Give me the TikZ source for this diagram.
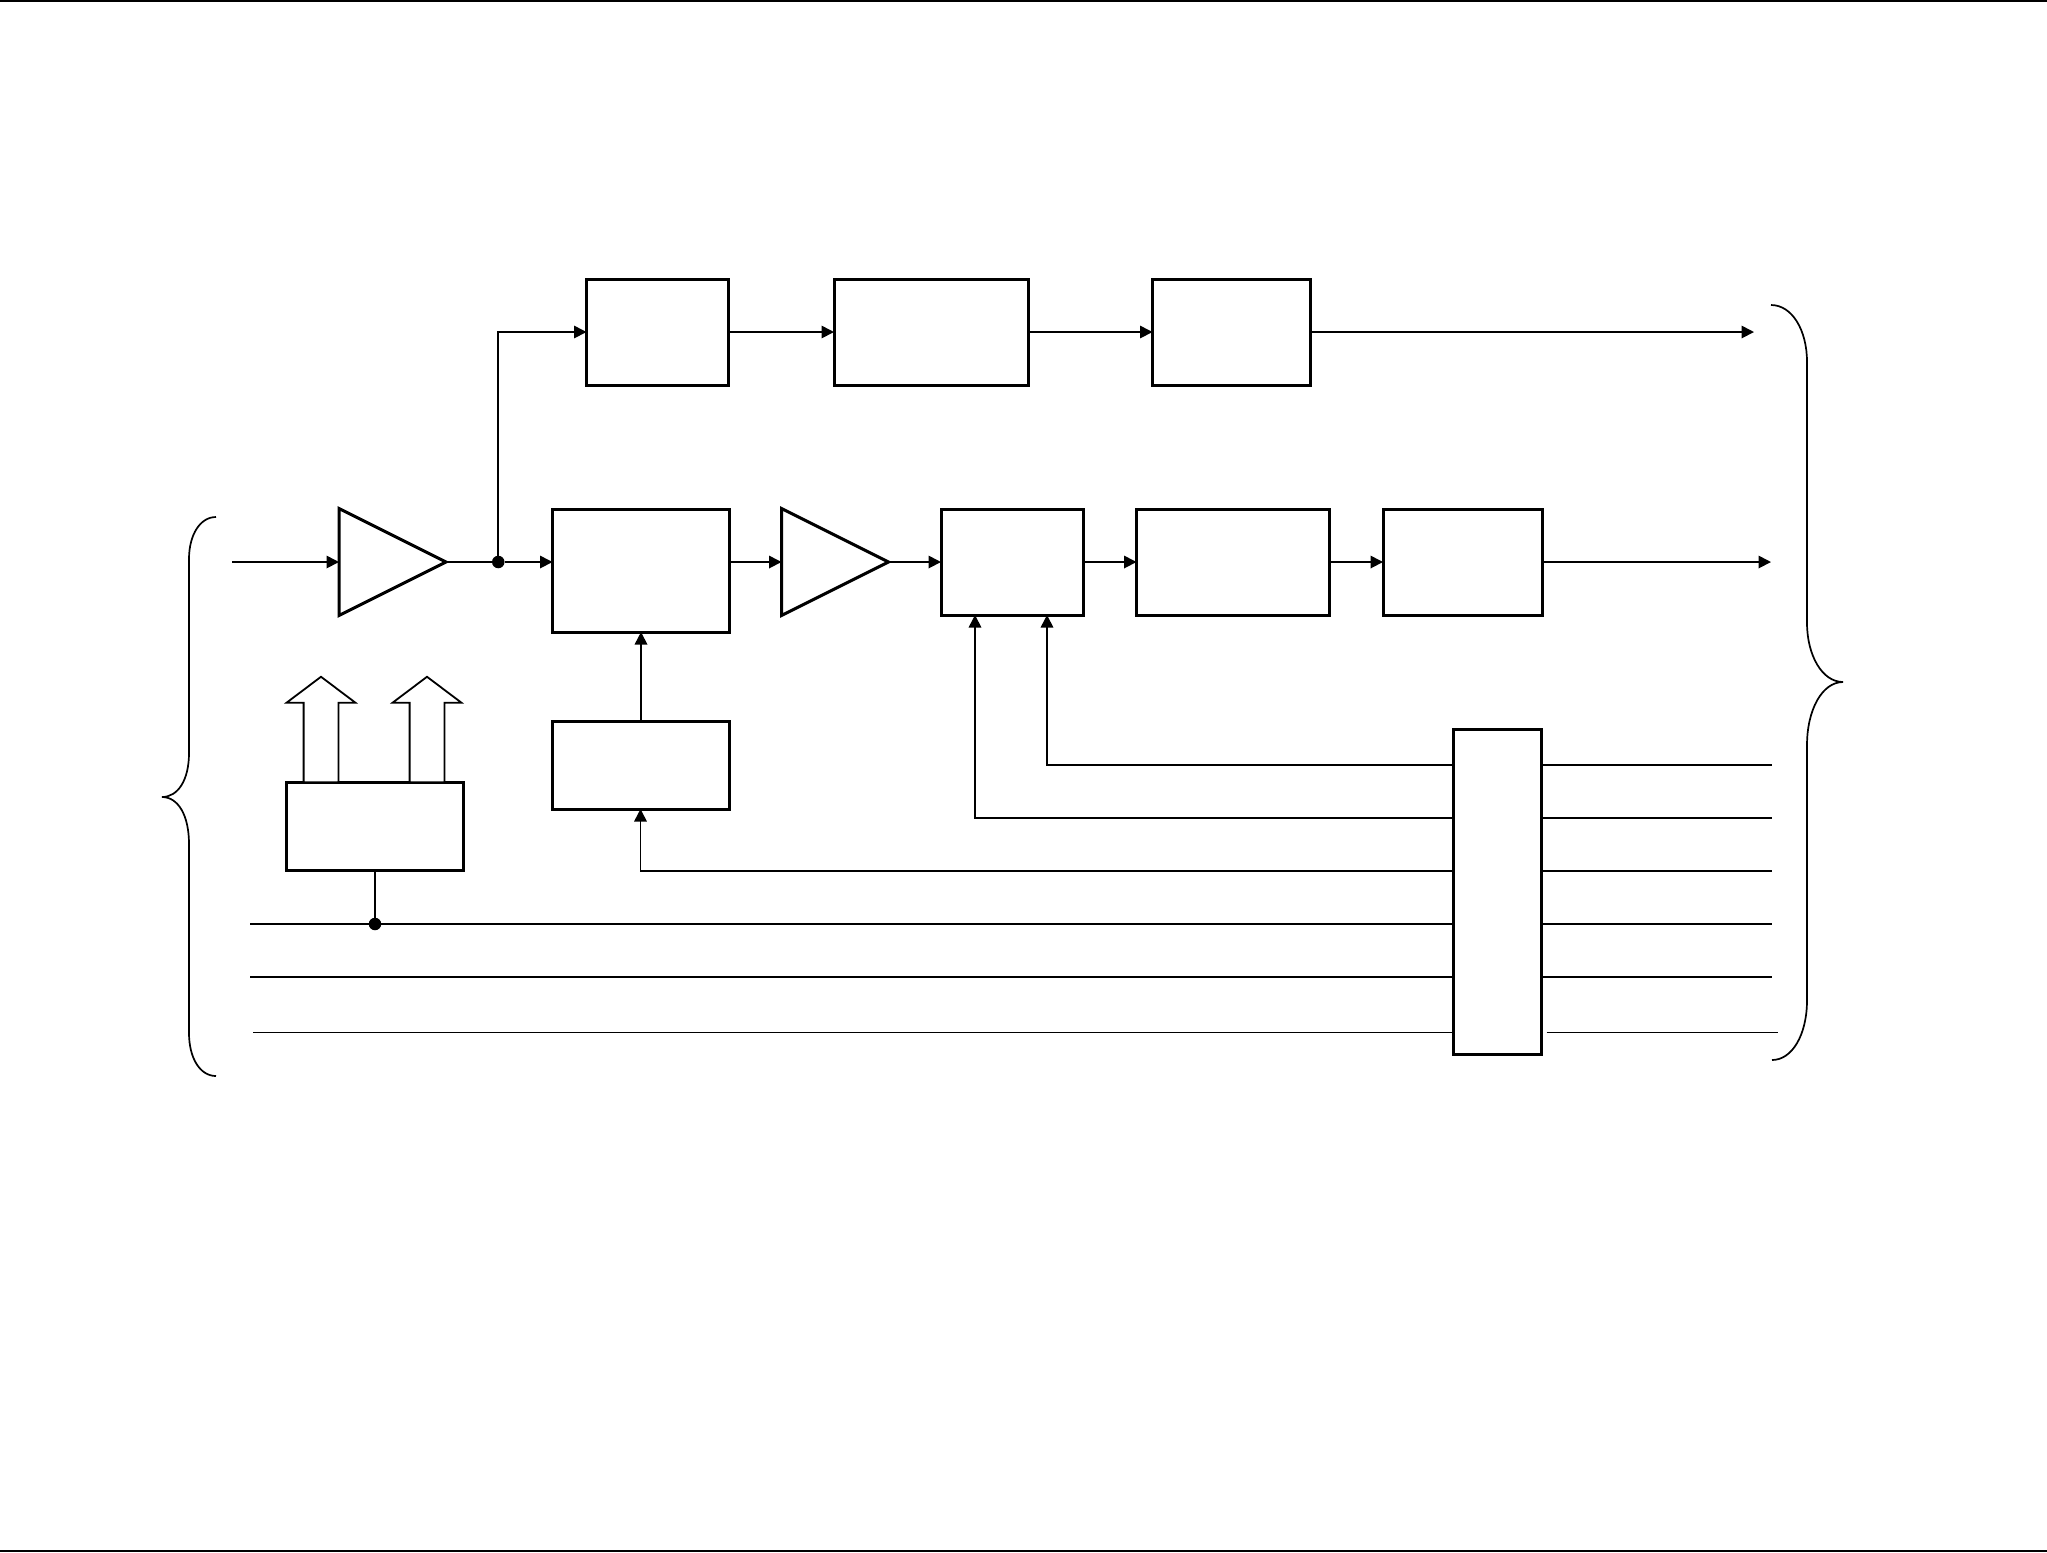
\documentclass[tikz,border=0pt]{standalone}
\usetikzlibrary{positioning,arrows.meta,shapes.geometric,shapes.arrows}

\begin{document}
\begin{tikzpicture}[node distance=0.5cm]
    % Style definition for the blocks
    \tikzset{box/.style={rectangle, minimum width=1.77cm, minimum height=1.06cm,
             draw=black, fill=white, line width=0.03cm, inner sep=0pt, outer sep=0pt}}
    \tikzset{amp/.style={isosceles triangle, isosceles triangle stretches, minimum width=1.07cm,
             minimum height=1.07cm, draw=black, fill=white, line width=0.03cm, inner sep=0pt, outer sep=0pt}}
    \tikzset{joint/.style={circle, fill=black, minimum size=0.125cm, inner sep=0pt, outer sep=0pt}}
    \tikzset{hollow/.style={single arrow, shape border rotate=90, draw=black, fill=white, line width=0.018cm,
             minimum height=1.055cm, minimum width=0.66cm, single arrow head extend=0.17cm, single arrow tip angle=106,
             inner xsep=0.165cm, inner ysep=0pt, outer sep=0pt, anchor=south}}
    \tikzstyle{arrow} = [line width=0.017cm,-{Triangle[length=0.125cm,width=0.125cm]}]
    \tikzstyle{wire} = [line width=0.017cm]
    \tikzstyle{bus} = [line width=0.027cm]
    \tikzstyle{hair} = [line width=0.009cm]

    \useasboundingbox (0,0) rectangle (20.47,-15.52);

    % Frame lines at the page edges
    \draw [line width=0.016cm] (0,-0.008) -- (20.47,-0.008);
    \draw [line width=0.016cm] (0,-15.512) -- (20.47,-15.512);

    % Top row
    \node (filtA) [box, minimum width=1.42cm] at (6.575,-3.32) {};
    \node (filtB) [box, minimum width=1.945cm, right=1.055cm of filtA] {};
    \node (filtC) [box, minimum width=1.58cm, right=1.24cm of filtB] {};

    % Middle row
    \node (amp1) [amp, anchor=west] at (3.39,-5.62) {};
    \node (split) [joint, right=0.46cm of amp1] {};
    \node (mix) [box, minimum height=1.23cm, right=0.48cm of split, yshift=-0.085cm] {};
    \node (amp2) [amp, right=0.52cm of mix, yshift=0.085cm] {};
    \node (detect) [box, minimum width=1.42cm, right=0.525cm of amp2] {};
    \node (conv) [box, minimum width=1.93cm, right=0.535cm of detect] {};
    \node (latch) [box, minimum width=1.595cm, right=0.535cm of conv] {};

    % Lower blocks
    \node (ctrl) [box, minimum height=0.88cm, below=0.89cm of mix] {};
    \node (gain) [box, minimum width=1.775cm, minimum height=0.885cm] at (3.75,-8.265) {};
    \node (tall) [box, minimum width=0.88cm, minimum height=3.25cm] at (14.975,-8.92) {};

    % Hollow arrows on the gain block
    \node (upA) [hollow] at ([xshift=-0.54cm]gain.north) {};
    \node (upB) [hollow] at ([xshift=0.52cm]gain.north) {};

    % Free ends of the lines
    \coordinate (in) at (2.32,-5.62);
    \coordinate (outA) at (17.54,-3.32);
    \coordinate (outB) at (17.71,-5.62);
    \coordinate (busA) at (10.47,-7.65);
    \coordinate (busB) at (9.75,-8.18);
    \coordinate (busC) at (6.405,-8.71);
    \coordinate (busD) at (2.50,-9.24);
    \coordinate (busE) at (2.50,-9.77);
    \coordinate (busF) at (2.53,-10.32);
    \coordinate (endBus) at (17.72,-9.24);
    \node (tapD) [joint] at (gain.south |- busD) {};

    % Arrows connecting the blocks
    \draw [arrow] (in) -- (amp1.west);
    \draw [wire] (amp1.east) -- (split);
    \draw [arrow] (split) -- (split -| mix.west);
    \draw [arrow] (split) |- (filtA);
    \draw [arrow] (filtA) -- (filtB);
    \draw [arrow] (filtB) -- (filtC);
    \draw [arrow] (filtC) -- (outA);
    \draw [arrow] (amp2.west -| mix.east) -- (amp2.west);
    \draw [arrow] (amp2.east) -- (detect);
    \draw [arrow] (detect) -- (conv);
    \draw [arrow] (conv) -- (latch);
    \draw [arrow] (latch) -- (outB);
    \draw [arrow] (ctrl) -- (mix);
    \draw [wire] (gain) -- (tapD);

    % Lines through the tall block
    \draw [arrow] (tall.west |- busA) -- (busA) -- (busA |- detect.south);
    \draw [arrow] (tall.west |- busB) -- (busB) -- (busB |- detect.south);
    \draw [arrow] (tall.west |- busC) -- (busC) -- (busC |- ctrl.south);
    \draw [bus] (busD) -- (tall.west |- busD);
    \draw [bus] (busE) -- (tall.west |- busE);
    \draw [hair] (busF) -- ([xshift=-0.015cm]tall.west |- busF);
    \draw [bus] (tall.east |- busA) -- (endBus |- busA);
    \draw [bus] (tall.east |- busB) -- (endBus |- busB);
    \draw [bus] (tall.east |- busC) -- (endBus |- busC);
    \draw [bus] (tall.east |- busD) -- (endBus |- busD);
    \draw [bus] (tall.east |- busE) -- (endBus |- busE);
    \draw [hair] ([xshift=0.05cm]tall.east |- busF) -- ([xshift=0.06cm]endBus |- busF);

    % Braces
    \draw [wire] (2.16,-5.17) .. controls (2.00,-5.17) and (1.89,-5.35) .. (1.89,-5.59) -- (1.89,-7.53)
        .. controls (1.89,-7.80) and (1.78,-7.97) .. (1.62,-7.97)
        .. controls (1.78,-7.97) and (1.89,-8.15) .. (1.89,-8.44) -- (1.89,-10.33)
        .. controls (1.89,-10.58) and (2.00,-10.76) .. (2.16,-10.76);
    \draw [wire] (17.71,-3.05) .. controls (17.92,-3.05) and (18.07,-3.30) .. (18.07,-3.62) -- (18.07,-6.23)
        .. controls (18.07,-6.55) and (18.22,-6.82) .. (18.43,-6.82)
        .. controls (18.22,-6.82) and (18.07,-7.10) .. (18.07,-7.45) -- (18.07,-10.00)
        .. controls (18.07,-10.35) and (17.92,-10.60) .. (17.72,-10.60);
\end{tikzpicture}
\end{document}
